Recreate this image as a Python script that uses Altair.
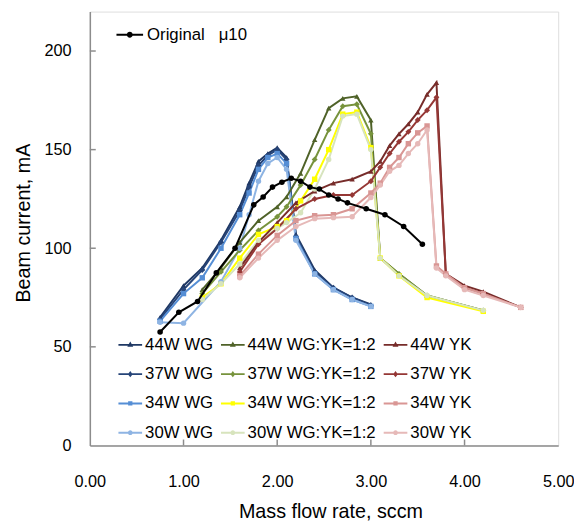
import altair as alt
import pandas as pd

FONT = "Liberation Sans"
GRAY = "#8c8c8c"

# ---------------- data ----------------
series_names = ["44W WG", "37W WG", "34W WG", "30W WG",
                "44W WG:YK=1:2", "37W WG:YK=1:2", "34W WG:YK=1:2", "30W WG:YK=1:2",
                "44W YK", "37W YK", "34W YK", "30W YK"]
series_colors = ["#1F3864", "#264478", "#558ED5", "#8EB4E3",
                 "#4F6228", "#77933C", "#FFFF00", "#D7E4BD",
                 "#772C2A", "#953735", "#D99694", "#E6B9B8"]
powers = ["44W", "37W", "34W", "30W"]
power_shapes = ["triangle-up", "diamond", "square", "circle"]

wg_x = [0.75, 1.0, 1.2, 1.4, 1.6, 1.7, 1.8, 1.9, 2.0, 2.1, 2.2, 2.4, 2.6, 2.8, 3.0]
wg44_y = [65, 81, 90, 104, 121, 133, 144, 148, 151, 146, 107, 89, 80, 75, 71.5]
wg37_y = [64, 79, 89, 103, 119, 131, 142, 147, 150, 145, 106, 88, 80, 75, 71]
wg34_y = [63, 77, 85, 100, 117, 128, 140, 146, 148, 143, 105, 87, 79, 74, 70.5]
wg30_x = [0.75, 1.0, 1.4, 1.6, 1.7, 1.8, 1.9, 2.0, 2.1, 2.2, 2.4, 2.6, 2.8, 3.0]
wg30_y = [62.5, 62, 83, 100, 117, 134, 143, 146, 140, 104, 87, 79, 74, 70.5]

mix_x = [1.2, 1.4, 1.6, 1.8, 2.0, 2.1, 2.25, 2.4, 2.55, 2.7, 2.85, 3.0, 3.1, 3.3, 3.6, 4.2]
mix44_y = [79, 90, 103, 114, 121, 126, 138, 155, 171, 176, 177, 165, 95, 87, 76, 68.5]
mix37_y = [77, 88, 99, 109, 116, 121, 132, 145, 160, 172, 173, 158, 95, 87, 76, 68.5]
mix34_y = [75, 82, 95, 107, 111, 114, 124, 135, 150, 168, 169, 151, 95, 86, 75, 68]
mix30_y = [74, 82, 92, 104, 110, 113, 118, 130, 145, 167, 168, 150, 95, 86, 76, 68.5]

yk_x = [1.6, 1.8, 2.0, 2.2, 2.4, 2.6, 2.8, 3.0, 3.1, 3.2, 3.3, 3.4, 3.5, 3.6, 3.7, 3.8, 4.0, 4.2, 4.6]
yk44_y = [90, 103, 113, 123, 129, 133, 135, 139, 144, 152, 158, 163, 169, 178, 184, 87, 81, 78, 70]
yk37_y = [88, 102, 110, 120, 125, 127, 127, 134, 141, 148, 154, 159, 165, 170, 176.5, 87, 80, 77, 70]
yk34_y = [86, 97, 106.5, 114, 116.5, 117, 120, 128, 133, 141, 146, 153, 158.5, 162, 91, 87, 80, 77, 70]
yk30_y = [85, 95, 104, 111, 115, 115.5, 116, 125.7, 132, 139, 142, 148, 153, 160, 90, 86, 79, 76, 70]

orig_name = "Original\u00a0\u00a0\u00a0\u03bc10"
orig_x = [0.75, 0.95, 1.15, 1.35, 1.55, 1.75, 1.85, 1.95, 2.05, 2.15, 2.25, 2.35,
          2.45, 2.55, 2.65, 2.75, 2.95, 3.15, 3.35, 3.55]
orig_y = [57.5, 67.5, 73, 87.5, 100, 122, 126, 131, 133.5, 135.5, 134, 131,
          130, 127, 125, 123, 120, 117, 111, 102]

x_ticks = [0, 1, 2, 3, 4, 5]
y_ticks = [0, 50, 100, 150, 200]

# ---------------- tables ----------------
series_data = {
    "44W WG": (wg_x, wg44_y), "37W WG": (wg_x, wg37_y),
    "34W WG": (wg_x, wg34_y), "30W WG": (wg30_x, wg30_y),
    "44W WG:YK=1:2": (mix_x, mix44_y), "37W WG:YK=1:2": (mix_x, mix37_y),
    "34W WG:YK=1:2": (mix_x, mix34_y), "30W WG:YK=1:2": (mix_x, mix30_y),
    "44W YK": (yk_x, yk44_y), "37W YK": (yk_x, yk37_y),
    "34W YK": (yk_x, yk34_y), "30W YK": (yk_x, yk30_y),
}
rows = []
for name in series_names:
    xs, ys = series_data[name]
    for i, (a, b) in enumerate(zip(xs, ys)):
        rows.append({"series": name, "w": name[:3], "x": a, "y": b, "i": i})
df = pd.DataFrame(rows)

df_orig = pd.DataFrame({"name": orig_name, "x": orig_x, "y": orig_y,
                        "i": list(range(len(orig_x)))})
df_xt = pd.DataFrame({"x": x_ticks[1:-1]})
df_yt = pd.DataFrame({"y": y_ticks[1:]})

# legend symbols: a short line with the series marker in the middle (all clockwise)
LINE = "M-1,-0.08H1V0.08H-1Z"
legend_paths = {
    "44W": LINE + "M0,-0.28L0.25,0.16L-0.25,0.16Z",
    "37W": LINE + "M0,-0.27L0.2,0L0,0.27L-0.2,0Z",
    "34W": LINE + "M-0.18,-0.18H0.18V0.18H-0.18Z",
    "30W": LINE + "M-0.2,0A0.2,0.2,0,1,1,0.2,0A0.2,0.2,0,1,1,-0.2,0Z",
}
series_legend_shapes = [legend_paths[n[:3]] for n in series_names]
ORIG_SYMBOL = "M-1,-0.075H1V0.075H-1ZM-0.22,0A0.22,0.22,0,1,1,0.22,0A0.22,0.22,0,1,1,-0.22,0Z"

xscale = alt.Scale(domain=[0, 5], nice=False)
yscale = alt.Scale(domain=[0, 220], nice=False)

# drawing scales list the series in reverse order so that their (hidden) legends
# are not merged with the visible legend
draw_scale = alt.Scale(domain=series_names[::-1], range=series_colors[::-1])
legend_color_scale = alt.Scale(domain=series_names, range=series_colors)

x_axis = alt.Axis(values=x_ticks, format=".2f", ticks=False, labelPadding=29,
                  labelFlush=False, grid=False, domainColor=GRAY, domainWidth=1.5,
                  labelFont=FONT, labelFontSize=16.5, labelColor="black",
                  title="Mass flow rate, sccm", titleFont=FONT, titleFontSize=20,
                  titleFontWeight="normal", titleColor="black", titlePadding=12,
                  titleX=244, titleAlign="center")
y_axis = alt.Axis(values=y_ticks, format="d", ticks=False,
                  labelPadding=19, labelFlush=False, grid=False, domainColor=GRAY,
                  domainWidth=1.5, labelFont=FONT, labelFontSize=16.5, labelColor="black",
                  title="Beam current, mA", titleFont=FONT, titleFontSize=20,
                  titleFontWeight="normal", titleColor="black", titlePadding=11,
                  titleY=214, titleAlign="center")

series_legend = alt.Legend(
    title=None, orient="none", legendX=29, legendY=326, columns=3,
    columnPadding=8, rowPadding=9.7, symbolSize=576, symbolStrokeWidth=0,
    symbolOpacity=1, labelFont=FONT, labelFontSize=17, labelColor="black",
    labelOffset=3, labelLimit=300, padding=0,
)
orig_legend = alt.Legend(
    title=None, orient="none", legendX=27, legendY=10, symbolSize=729,
    symbolStrokeWidth=0, symbolType=ORIG_SYMBOL, symbolOpacity=1,
    labelFont=FONT, labelFontSize=17, labelColor="black",
    labelOffset=4, labelLimit=300, padding=0,
)

X = alt.X("x:Q", scale=xscale, axis=x_axis)
Y = alt.Y("y:Q", scale=yscale, axis=y_axis)

lines = alt.Chart(df).mark_line(strokeWidth=2).encode(
    x=X, y=Y,
    stroke=alt.Stroke("series:N", scale=draw_scale, legend=None),
    order="i:Q",
)

marker_layers = []
for p, shp in zip(powers, power_shapes):
    marker_layers.append(
        alt.Chart(df).transform_filter(alt.datum.w == p).mark_point(
            filled=True, opacity=1, shape=shp, size=30 if shp != "diamond" else 36
        ).encode(
            x=X, y=Y,
            fill=alt.Fill("series:N", scale=draw_scale, legend=None),
        )
    )

# legend-only layer (draws no rows): colour + line/marker symbols
legend_layer = alt.Chart(df).transform_filter("false").mark_point(filled=True, opacity=1).encode(
    x=X, y=Y,
    color=alt.Color("series:N", scale=legend_color_scale, legend=series_legend),
    shape=alt.Shape("series:N", scale=alt.Scale(domain=series_names, range=series_legend_shapes),
                    legend=series_legend),
)

orig_line = alt.Chart(df_orig).mark_line(color="black", strokeWidth=2).encode(
    x=X, y=Y, order="i:Q")
orig_pts = alt.Chart(df_orig).mark_point(filled=True, opacity=1, color="black",
                                         shape="circle", size=32).encode(x=X, y=Y)
orig_legend_layer = alt.Chart(df_orig).transform_filter("false").mark_point(
    filled=True, color="black").encode(
    x=X, y=Y,
    opacity=alt.Opacity("name:N", scale=alt.Scale(domain=[orig_name], range=[1]),
                        legend=orig_legend),
)

xticks = alt.Chart(df_xt).mark_rule(color=GRAY, strokeWidth=1.5).encode(
    x=alt.X("x:Q", scale=xscale), y=alt.value(440), y2=alt.value(434))
yticks = alt.Chart(df_yt).mark_rule(color=GRAY, strokeWidth=1.5).encode(
    y=alt.Y("y:Q", scale=yscale), x=alt.value(0), x2=alt.value(6))

chart = alt.layer(
    lines, *marker_layers, orig_line, orig_pts, legend_layer, orig_legend_layer,
    xticks, yticks,
).properties(
    width=475, height=440,
    padding={"left": 83, "top": 0, "right": 16, "bottom": 73},
    autosize=alt.AutoSizeParams(type="none"),
).configure_view(stroke=GRAY, strokeWidth=1.5).configure(background="white")

chart.save("out.html", embed_options={"renderer": "svg", "actions": False})
